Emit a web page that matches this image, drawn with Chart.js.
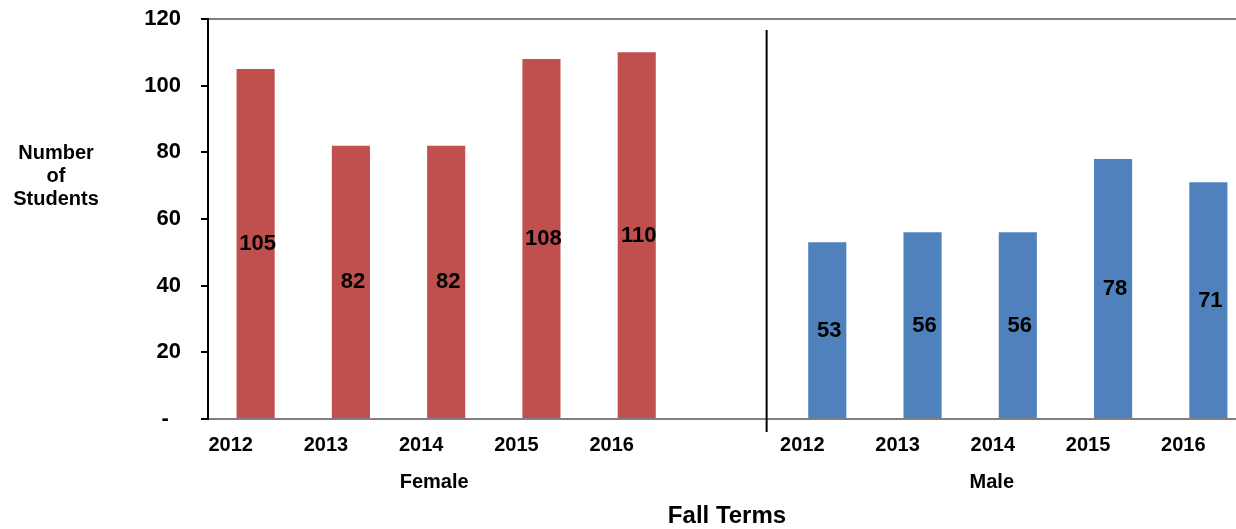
<!DOCTYPE html>
<html>
<head>
<meta charset="utf-8">
<script src="https://cdn.jsdelivr.net/npm/chart.js@4/dist/chart.umd.min.js"></script>
<style>
  html, body { margin: 0; padding: 0; background: #fff; overflow: hidden; }
  #wrap { width: 1256px; height: 529px; position: relative; }
</style>
</head>
<body>
<div id="wrap"><canvas id="termsChart"></canvas></div>
<script>
const years = ['2012', '2013', '2014', '2015', '2016'];
const groups = ['Female', 'Male'];
const female = [105, 82, 82, 108, 110];
const male = [53, 56, 56, 78, 71];
const yTicks = [0, 20, 40, 60, 80, 100, 120];

// one empty slot between the two groups
const labels = [...years, '', ...years];
const femaleData = [...female, null, ...years.map(() => null)];
const maleData = [...years.map(() => null), null, ...male];

const FONT = '"Liberation Sans", Arial, sans-serif';

const extras = {
  id: 'extras',
  afterDatasetsDraw(chart) {
    const { ctx, chartArea, scales: { x, y } } = chart;
    ctx.save();

    // value labels in the middle of the bars
    ctx.font = 'bold 22px ' + FONT;
    ctx.fillStyle = '#000';
    ctx.textAlign = 'center';
    ctx.textBaseline = 'middle';
    chart.data.datasets.forEach((ds) => {
      ds.data.forEach((v, i) => {
        if (v == null) return;
        ctx.fillText(String(v), x.getPixelForValue(i) + 2, y.getPixelForValue(v / 2));
      });
    });

    // divider between the groups
    const dx = (x.getPixelForValue(5) + x.getPixelForValue(6)) / 2 - 13;
    ctx.strokeStyle = '#000';
    ctx.lineWidth = 2;
    ctx.beginPath();
    ctx.moveTo(dx, chartArea.top + 11);
    ctx.lineTo(dx, chartArea.bottom + 13);
    ctx.stroke();

    // group labels
    ctx.font = 'bold 20px ' + FONT;
    ctx.fillText(groups[0], x.getPixelForValue(2) - 12, chartArea.bottom + 63);
    ctx.fillText(groups[1], x.getPixelForValue(8) - 26, chartArea.bottom + 63);

    // axis titles
    ctx.font = 'bold 24px ' + FONT;
    ctx.fillText('Fall Terms', 727, chartArea.bottom + 97);
    ctx.font = 'bold 20px ' + FONT;
    ['Number', 'of', 'Students'].forEach((t, i) => {
      ctx.fillText(t, 56, 153 + i * 23);
    });
    ctx.restore();
  }
};

new Chart(document.getElementById('termsChart'), {
  type: 'bar',
  data: {
    labels: labels,
    datasets: [
      { data: femaleData, backgroundColor: '#C0504D' },
      { data: maleData, backgroundColor: '#4F81BD' }
    ]
  },
  options: {
    responsive: true,
    maintainAspectRatio: false,
    animation: false,
    grouped: false,
    barPercentage: 0.4,
    categoryPercentage: 1,
    layout: { padding: { top: 19, right: 0, left: 0, bottom: 0 } },
    plugins: {
      legend: { display: false },
      tooltip: { enabled: false }
    },
    scales: {
      x: {
        grid: { display: false },
        border: { color: '#808080', width: 2 },
        ticks: {
          color: '#000',
          font: { family: FONT, size: 20, weight: 'bold' },
          labelOffset: -25,
          padding: 6,
          maxRotation: 0,
          autoSkip: false
        },
        afterFit(scale) { scale.height = 110; }
      },
      y: {
        min: 0,
        max: 120,
        afterBuildTicks(scale) { scale.ticks = yTicks.map((v) => ({ value: v })); },
        grid: {
          color: (c) => (c.tick && c.tick.value === 120 ? '#808080' : 'rgba(0,0,0,0)'),
          lineWidth: 2,
          tickColor: '#000',
          tickLength: 7,
          drawOnChartArea: true
        },
        border: { color: '#000', width: 2 },
        ticks: {
          color: '#000',
          padding: 20,
          font: { family: FONT, size: 22, weight: 'bold' },
          callback: (v) => (v === 0 ? '-  ' : v)
        },
        afterFit(scale) {
          scale.width = 208;
          scale.paddingTop = 13;
          scale.paddingBottom = 13;
        }
      }
    }
  },
  plugins: [extras]
});
</script>
</body>
</html>
